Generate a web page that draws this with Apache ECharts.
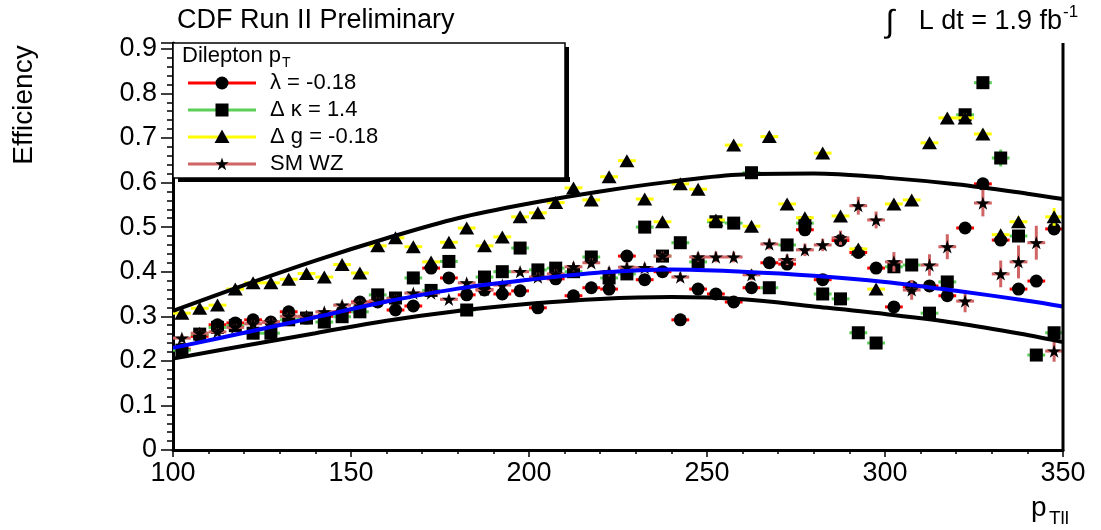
<!DOCTYPE html>
<html>
<head>
<meta charset="utf-8">
<title>Dilepton pT efficiency</title>
<script src="https://cdn.jsdelivr.net/npm/echarts@6/dist/echarts.min.js"></script>
<style>
  html, body { margin: 0; padding: 0; background: #ffffff; }
  #chart { width: 1101px; height: 530px; }
</style>
</head>
<body>
<div id="chart"></div>
<script>
// ---- data -------------------------------------------------------------
// bin centres of the 5 GeV dilepton pT bins
const binCenters = [
  102.5, 107.5, 112.5, 117.5, 122.5, 127.5, 132.5, 137.5, 142.5, 147.5,
  152.5, 157.5, 162.5, 167.5, 172.5, 177.5, 182.5, 187.5, 192.5, 197.5,
  202.5, 207.5, 212.5, 217.5, 222.5, 227.5, 232.5, 237.5, 242.5, 247.5,
  252.5, 257.5, 262.5, 267.5, 272.5, 277.5, 282.5, 287.5, 292.5, 297.5,
  302.5, 307.5, 312.5, 317.5, 322.5, 327.5, 332.5, 337.5, 342.5, 347.5
];
const binHalfWidth = 2.5;

// lambda = -0.18
const lambdaEff = [
  0.226, 0.255, 0.281, 0.285, 0.292, 0.287, 0.310, 0.296, 0.300, 0.310,
  0.332, 0.332, 0.314, 0.323, 0.408, 0.386, 0.348, 0.359, 0.350, 0.357,
  0.319, 0.384, 0.346, 0.364, 0.361, 0.435, 0.382, 0.400, 0.292, 0.361,
  0.350, 0.332, 0.364, 0.420, 0.417, 0.494, 0.382, 0.470, 0.443, 0.408,
  0.321, 0.366, 0.368, 0.346, 0.498, 0.597, 0.471, 0.361, 0.379, 0.496
];
const lambdaErr = [
  0.006, 0.006, 0.006, 0.006, 0.006, 0.006, 0.006, 0.006, 0.006, 0.006,
  0.006, 0.006, 0.006, 0.006, 0.006, 0.006, 0.006, 0.006, 0.006, 0.006,
  0.007, 0.007, 0.007, 0.007, 0.007, 0.007, 0.007, 0.007, 0.007, 0.007,
  0.008, 0.008, 0.008, 0.008, 0.008, 0.008, 0.008, 0.008, 0.008, 0.008,
  0.009, 0.009, 0.009, 0.009, 0.010, 0.010, 0.010, 0.010, 0.010, 0.010
];

// delta kappa = 1.4
const kappaEff = [
  0.224, 0.260, 0.275, 0.279, 0.262, 0.262, 0.292, 0.296, 0.287, 0.299,
  0.310, 0.348, 0.341, 0.386, 0.358, 0.423, 0.314, 0.388, 0.400, 0.453,
  0.404, 0.408, 0.400, 0.433, 0.386, 0.395, 0.500, 0.435, 0.465, 0.422,
  0.512, 0.509, 0.622, 0.364, 0.460, 0.509, 0.350, 0.339, 0.263, 0.240,
  0.411, 0.415, 0.307, 0.377, 0.752, 0.824, 0.655, 0.480, 0.213, 0.263
];
const kappaErr = [
  0.006, 0.006, 0.006, 0.006, 0.006, 0.006, 0.006, 0.006, 0.006, 0.006,
  0.006, 0.006, 0.006, 0.006, 0.006, 0.006, 0.006, 0.006, 0.006, 0.006,
  0.007, 0.007, 0.007, 0.007, 0.007, 0.007, 0.007, 0.007, 0.007, 0.007,
  0.008, 0.008, 0.008, 0.008, 0.008, 0.008, 0.008, 0.008, 0.008, 0.008,
  0.009, 0.009, 0.009, 0.009, 0.010, 0.010, 0.019, 0.012, 0.010, 0.010
];

// delta g = -0.18
const gEff = [
  0.307, 0.318, 0.325, 0.361, 0.375, 0.375, 0.383, 0.396, 0.388, 0.416,
  0.397, 0.458, 0.476, 0.456, 0.422, 0.466, 0.498, 0.458, 0.478, 0.523,
  0.532, 0.555, 0.588, 0.561, 0.613, 0.649, 0.563, 0.512, 0.597, 0.585,
  0.516, 0.684, 0.502, 0.703, 0.552, 0.521, 0.666, 0.525, 0.451, 0.361,
  0.552, 0.561, 0.689, 0.745, 0.745, 0.709, 0.483, 0.512, null,  0.523
];
const gErr = [
  0.006, 0.006, 0.006, 0.006, 0.006, 0.006, 0.006, 0.006, 0.006, 0.006,
  0.006, 0.006, 0.006, 0.006, 0.006, 0.006, 0.006, 0.006, 0.006, 0.006,
  0.007, 0.007, 0.007, 0.007, 0.007, 0.007, 0.007, 0.007, 0.007, 0.007,
  0.008, 0.008, 0.008, 0.008, 0.008, 0.008, 0.008, 0.008, 0.008, 0.008,
  0.009, 0.009, 0.009, 0.009, 0.010, 0.010, 0.010, 0.012, 0.010, 0.020
];

// Standard Model WZ
const smEff = [
  0.251, 0.262, 0.265, 0.275, 0.283, 0.287, 0.300, 0.300, 0.310, 0.325,
  0.330, 0.335, 0.340, 0.352, 0.352, 0.338, 0.375, 0.360, 0.370, 0.400,
  0.388, 0.395, 0.411, 0.420, 0.400, 0.410, 0.409, 0.435, 0.388, 0.433,
  0.433, 0.433, 0.393, 0.462, 0.427, 0.449, 0.460, 0.476, 0.548, 0.516,
  0.422, 0.359, 0.415, 0.456, 0.334, 0.554, 0.395, 0.422, 0.465, 0.222
];
const smErr = [
  0.008, 0.008, 0.008, 0.008, 0.008, 0.008, 0.008, 0.008, 0.008, 0.008,
  0.008, 0.008, 0.008, 0.008, 0.008, 0.008, 0.008, 0.008, 0.008, 0.008,
  0.010, 0.010, 0.010, 0.010, 0.010, 0.010, 0.010, 0.010, 0.010, 0.010,
  0.012, 0.012, 0.012, 0.012, 0.012, 0.014, 0.014, 0.016, 0.020, 0.019,
  0.022, 0.022, 0.024, 0.028, 0.025, 0.030, 0.030, 0.037, 0.038, 0.024
];

// fitted efficiency curve and its band
const curveX = [100, 120, 140, 160, 180, 200, 220, 240, 260, 280, 300, 320, 340, 350];
const fitY   = [0.229, 0.263, 0.298, 0.333, 0.362, 0.382, 0.398, 0.405, 0.400, 0.391, 0.377, 0.357, 0.335, 0.322];
const upperY = [0.312, 0.370, 0.425, 0.475, 0.520, 0.553, 0.580, 0.602, 0.618, 0.620, 0.611, 0.596, 0.575, 0.563];
const lowerY = [0.205, 0.234, 0.262, 0.290, 0.312, 0.328, 0.339, 0.343, 0.338, 0.322, 0.305, 0.285, 0.258, 0.242];

// axis tick labels
const xTickLabels = ['100', '150', '200', '250', '300', '350'];
const yTickLabels = ['0', '0.1', '0.2', '0.3', '0.4', '0.5', '0.6', '0.7', '0.8', '0.9'];

// ---- styling ----------------------------------------------------------
const FONT = '"Liberation Sans", Arial, Helvetica, sans-serif';
const COL_LAMBDA = '#ff0000';
const COL_KAPPA = '#5ccf57';
const COL_G = '#ffff00';
const COL_SM = '#d06464';
// five-pointed star outline in a 100x100 box
const STAR_PTS = [[50, 0], [61.2, 34.5], [97.6, 34.5], [68.2, 55.9], [79.4, 90.5],
                  [50, 69.1], [20.6, 90.5], [31.8, 55.9], [2.4, 34.5], [38.8, 34.5]];
const STAR_PATH = 'path://M' + STAR_PTS.map(p => p[0] + ',' + p[1]).join(' L') + ' Z';

function points(vals, errs) {
  const out = [];
  for (let i = 0; i < binCenters.length; i++) {
    if (vals[i] == null) continue;
    out.push([binCenters[i], vals[i], binHalfWidth, errs[i]]);
  }
  return out;
}

function errorBarSeries(name, vals, errs, color, z) {
  return {
    name: name + ' errors',
    type: 'custom',
    z: z,
    silent: true,
    clip: true,
    encode: { x: 0, y: 1 },
    data: points(vals, errs),
    renderItem: function (params, api) {
      const x = api.value(0), y = api.value(1), ex = api.value(2), ey = api.value(3);
      const l = api.coord([x - ex, y]);
      const r = api.coord([x + ex, y]);
      const t = api.coord([x, y + ey]);
      const b = api.coord([x, y - ey]);
      return {
        type: 'group',
        children: [
          { type: 'line', shape: { x1: l[0], y1: l[1], x2: r[0], y2: r[1] },
            style: { stroke: color, lineWidth: 3 } },
          { type: 'line', shape: { x1: t[0], y1: t[1], x2: b[0], y2: b[1] },
            style: { stroke: color, lineWidth: 3 } }
        ]
      };
    }
  };
}

function markerSeries(name, vals, errs, symbol, size, z) {
  return {
    name: name,
    type: 'scatter',
    z: z,
    symbol: symbol,
    symbolSize: size,
    symbolKeepAspect: true,
    itemStyle: { color: '#000000', opacity: 1 },
    emphasis: { disabled: true },
    data: points(vals, errs)
  };
}

function curveSeries(name, ys, color) {
  return {
    name: name,
    type: 'line',
    z: 20,
    smooth: 0.35,
    showSymbol: false,
    symbol: 'none',
    lineStyle: { color: color, width: 4 },
    emphasis: { disabled: true },
    data: curveX.map((x, i) => [x, ys[i]])
  };
}

// ---- legend drawn as graphic elements ---------------------------------
const legendX = 173, legendY = 43, legendW = 392, legendH = 135;
const rowY = [83, 110, 137, 164];
const lineX1 = 188, lineX2 = 256, symX = 222, textX = 270;

function legendSymbol(kind, cy) {
  if (kind === 'circle') {
    return { type: 'circle', shape: { cx: symX, cy: cy, r: 6.5 }, style: { fill: '#000' } };
  }
  if (kind === 'square') {
    return { type: 'rect', shape: { x: symX - 6.5, y: cy - 6.5, width: 13, height: 13 }, style: { fill: '#000' } };
  }
  if (kind === 'triangle') {
    return { type: 'polygon', shape: { points: [[symX, cy - 7.5], [symX + 7.5, cy + 6], [symX - 7.5, cy + 6]] }, style: { fill: '#000' } };
  }
  return {
    type: 'polygon',
    shape: { points: STAR_PTS.map(p => [symX - 7 + p[0] * 0.14, cy - 6.5 + p[1] * 0.14]) },
    style: { fill: '#000' }
  };
}

const legendEntries = [
  { label: 'λ = -0.18', color: COL_LAMBDA, kind: 'circle' },
  { label: 'Δ κ = 1.4', color: COL_KAPPA, kind: 'square' },
  { label: 'Δ g = -0.18', color: COL_G, kind: 'triangle' },
  { label: 'SM WZ', color: COL_SM, kind: 'star' }
];

const legendGraphics = [
  // drop shadow
  { type: 'rect', shape: { x: legendX + 5, y: legendY + legendH - 1, width: legendW, height: 5 }, style: { fill: '#000' }, z: 50 },
  { type: 'rect', shape: { x: legendX + legendW - 1, y: legendY + 4, width: 5, height: legendH }, style: { fill: '#000' }, z: 50 },
  // box
  { type: 'rect', shape: { x: legendX, y: legendY, width: legendW, height: legendH },
    style: { fill: '#fff', stroke: '#000', lineWidth: 1.5 }, z: 51 },
  { type: 'text', x: 182, y: 56, z: 52,
    style: { text: 'Dilepton p', font: '22px ' + FONT, fill: '#000', verticalAlign: 'middle', align: 'left' } },
  { type: 'text', x: 282, y: 63, z: 52,
    style: { text: 'T', font: '14px ' + FONT, fill: '#000', verticalAlign: 'middle', align: 'left' } }
];
legendEntries.forEach((e, i) => {
  const cy = rowY[i];
  legendGraphics.push({ type: 'line', z: 52, shape: { x1: lineX1, y1: cy, x2: lineX2, y2: cy },
    style: { stroke: e.color, lineWidth: 3 } });
  const s = legendSymbol(e.kind, cy);
  s.z = 53;
  legendGraphics.push(s);
  legendGraphics.push({ type: 'text', x: textX, y: cy, z: 53,
    style: { text: e.label, font: '22px ' + FONT, fill: '#000', verticalAlign: 'middle', align: 'left' } });
});

// ---- titles and frame --------------------------------------------------
const textGraphics = [
  { type: 'text', x: 177, y: 21, style: { text: 'CDF Run II Preliminary', font: '27px ' + FONT, fill: '#000', verticalAlign: 'middle', align: 'left' } },
  { type: 'text', x: 890, y: 23, style: { text: '∫', font: '32px ' + FONT, fill: '#000', verticalAlign: 'middle', align: 'center' } },
  { type: 'text', x: 1062, y: 22, style: { text: 'L dt = 1.9 fb', font: '27px ' + FONT, fill: '#000', verticalAlign: 'middle', align: 'right' } },
  { type: 'text', x: 1063, y: 12, style: { text: '-1', font: '17px ' + FONT, fill: '#000', verticalAlign: 'middle', align: 'left' } },
  { type: 'text', x: 24, y: 105, rotation: Math.PI / 2,
    style: { text: 'Efficiency', font: '28px ' + FONT, fill: '#000', verticalAlign: 'middle', align: 'center' } },
  { type: 'text', x: 1031, y: 508, style: { text: 'p', font: '28px ' + FONT, fill: '#000', verticalAlign: 'middle', align: 'left' } },
  { type: 'text', x: 1049, y: 519, style: { text: 'Tll', font: '19px ' + FONT, fill: '#000', verticalAlign: 'middle', align: 'left' } },
  // right-hand frame edge
  { type: 'line', shape: { x1: 1063, y1: 43, x2: 1063, y2: 451 }, style: { stroke: '#000', lineWidth: 3 }, z: 30 }
];

// ---- chart ---------------------------------------------------------------
const chart = echarts.init(document.getElementById('chart'), null, { renderer: 'canvas' });
chart.setOption({
  animation: false,
  backgroundColor: '#ffffff',
  textStyle: { fontFamily: FONT },
  grid: { left: 173, right: 38, top: 43, bottom: 80, containLabel: false },
  xAxis: {
    type: 'value', min: 100, max: 350, interval: 50,
    axisLine: { show: true, onZero: false, lineStyle: { color: '#000', width: 3 } },
    axisTick: { show: true, inside: false, length: 7, lineStyle: { color: '#000', width: 1.5 } },
    minorTick: { show: true, splitNumber: 5, length: 4, lineStyle: { color: '#000', width: 1.5 } },
    splitLine: { show: false },
    axisLabel: {
      color: '#000', fontSize: 27, fontFamily: FONT, margin: 10,
      formatter: v => xTickLabels[Math.round((v - 100) / 50)]
    }
  },
  yAxis: {
    type: 'value', min: 0, max: 0.913, interval: 0.1,
    axisLine: { show: true, onZero: false, lineStyle: { color: '#000', width: 3 } },
    axisTick: { show: true, inside: false, length: 12, lineStyle: { color: '#000', width: 1.5 } },
    minorTick: { show: true, splitNumber: 5, length: 6, lineStyle: { color: '#000', width: 1.5 } },
    splitLine: { show: false },
    axisLabel: {
      color: '#000', fontSize: 27, fontFamily: FONT, margin: 16, showMaxLabel: false,
      formatter: v => { const k = Math.round(v * 10); return k <= 9 ? yTickLabels[k] : ''; }
    }
  },
  series: [
    errorBarSeries('λ = -0.18', lambdaEff, lambdaErr, COL_LAMBDA, 2),
    markerSeries('λ = -0.18', lambdaEff, lambdaErr, 'circle', 13, 3),
    errorBarSeries('Δ κ = 1.4', kappaEff, kappaErr, COL_KAPPA, 4),
    markerSeries('Δ κ = 1.4', kappaEff, kappaErr, 'rect', 13, 5),
    errorBarSeries('Δ g = -0.18', gEff, gErr, COL_G, 6),
    markerSeries('Δ g = -0.18', gEff, gErr, 'triangle', [15, 13], 7),
    errorBarSeries('SM WZ', smEff, smErr, COL_SM, 8),
    markerSeries('SM WZ', smEff, smErr, STAR_PATH, 14, 9),
    curveSeries('upper', upperY, '#000000'),
    curveSeries('lower', lowerY, '#000000'),
    curveSeries('fit', fitY, '#0000ff')
  ],
  graphic: textGraphics.concat(legendGraphics)
});
</script>
</body>
</html>
